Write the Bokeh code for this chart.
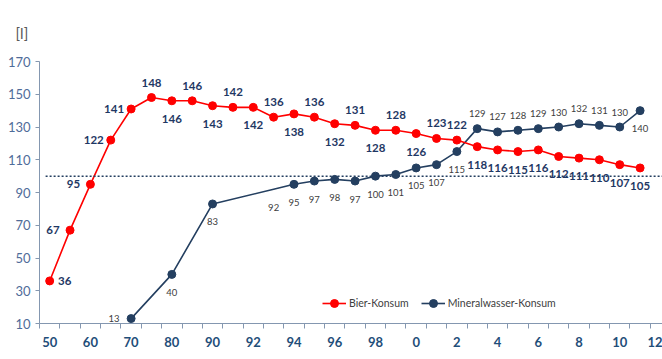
from bokeh.plotting import figure
from bokeh.models import ColumnDataSource, FixedTicker, Range1d, Legend, LegendItem
from bokeh.core.properties import value
from bokeh.embed import file_html
from bokeh.resources import INLINE

# ---- data ----
categories = ["50", "55", "60", "65", "70", "75", "80", "85", "90", "91", "92", "93", "94",
              "95", "96", "97", "98", "99", "0", "1", "2", "3", "4", "5", "6", "7", "8",
              "9", "10", "11", "12"]
bier = [36, 67, 95, 122, 141, 148, 146, 146, 143, 142, 142, 136, 138, 136, 132, 131, 128,
        128, 126, 123, 122, 118, 116, 115, 116, 112, 111, 110, 107, 105]
wasser = [None, None, None, None, 13, None, 40, None, 83, None, None, 92, 95, 97, 98, 97,
          100, 101, 105, 107, 115, 129, 127, 128, 129, 130, 132, 131, 130, 140]
reference_level = 100
y_ticks = [10, 30, 50, 70, 90, 110, 130, 150, 170]

# label placement (a=above, b=below, l=left, r=right)
bier_pos = list("rllll" + "abababababababa" + "a" + "bbbbbbbbb")
wasser_pos = ["l" if i == 4 else ("a" if 21 <= i <= 28 else "b") for i in range(len(wasser))]
wasser_no_marker = {"93"}

RED = "#FF0000"
NAVY = "#243F60"
FONT = "Lato"

offs = {"a": (0, -15), "b": (0, 18), "l": (-17, 0), "r": (15, 0)}

p = figure(width=662, height=359, output_backend="svg", toolbar_location=None,
           x_range=Range1d(-0.5, 30.1), y_range=Range1d(10, 170),
           min_border_left=39, min_border_right=0, min_border_top=61, min_border_bottom=36,
           title="[l]")
p.outline_line_color = None
p.xgrid.grid_line_color = None
p.ygrid.grid_line_color = None
p.background_fill_color = "white"

p.title.align = "left"
p.title.vertical_align = "top"
p.title.offset = -24
p.title.standoff = 36
p.title.text_font = FONT
p.title.text_font_size = "15px"
p.title.text_font_style = "normal"
p.title.text_color = "#595959"

# blue series
wx = [i for i, v in enumerate(wasser) if v is not None]
wy = [wasser[i] for i in wx]
wl = p.line(wx, wy, line_color=NAVY, line_width=1.6)
mx = [i for i in wx if categories[i] not in wasser_no_marker]
my = [wasser[i] for i in mx]
ws = p.scatter(mx, my, size=8, fill_color=NAVY, line_color=NAVY)

# red series
bx = list(range(len(bier)))
bl = p.line(bx, bier, line_color=RED, line_width=1.6)
bs = p.scatter(bx, bier, size=8, fill_color=RED, line_color=RED)

# labels
bsrc = ColumnDataSource(dict(x=bx, y=bier, t=[str(v) for v in bier],
                             xo=[offs[c][0] for c in bier_pos], yo=[offs[c][1] for c in bier_pos]))
p.text(x="x", y="y", text="t", x_offset="xo", y_offset="yo", source=bsrc,
       text_align="center", text_baseline="middle", text_font=value(FONT),
       text_font_size="11.5px", text_font_style="bold", text_color="#1F3864")
wsrc = ColumnDataSource(dict(x=wx, y=wy, t=[str(v) for v in wy],
                             xo=[offs[wasser_pos[i]][0] for i in wx], yo=[offs[wasser_pos[i]][1] for i in wx]))
p.text(x="x", y="y", text="t", x_offset="xo", y_offset="yo", source=wsrc,
       text_align="center", text_baseline="middle", text_font=value(FONT),
       text_font_size="9.5px", text_color="#404040")

# reference dotted line
p.line([-0.2, 30.3], [reference_level, reference_level], line_color=NAVY, line_width=1.5,
       line_dash="2 2")

# axes
AX = "#8497B0"
p.yaxis.ticker = FixedTicker(ticks=y_ticks)
p.yaxis.axis_line_color = AX
p.yaxis.major_tick_line_color = AX
p.yaxis.major_tick_in = 0
p.yaxis.major_tick_out = 4
p.yaxis.minor_tick_line_color = None
p.yaxis.major_label_text_font = FONT
p.yaxis.major_label_text_font_size = "13px"
p.yaxis.major_label_text_color = "#4F6C9A"
p.yaxis.major_label_standoff = 5

p.xaxis.ticker = FixedTicker(ticks=list(range(0, len(categories), 2)),
                             minor_ticks=[i - 0.5 for i in range(len(categories) + 1)])
p.xaxis.major_label_overrides = {i: categories[i] for i in range(0, len(categories), 2)}
p.xaxis.axis_line_color = AX
p.xaxis.major_tick_line_color = None
p.xaxis.major_tick_in = 0
p.xaxis.major_tick_out = 5
p.xaxis.minor_tick_line_color = AX
p.xaxis.minor_tick_in = 0
p.xaxis.minor_tick_out = 5
p.xaxis.major_label_text_font = FONT
p.xaxis.major_label_text_font_size = "13px"
p.xaxis.major_label_text_font_style = "bold"
p.xaxis.major_label_text_color = "#1F4E79"
p.xaxis.major_label_standoff = 8

legend = Legend(items=[LegendItem(label="Bier-Konsum", renderers=[bl, bs]),
                       LegendItem(label="Mineralwasser-Konsum", renderers=[wl, ws])],
                orientation="horizontal", location=(283, 10), border_line_color=None,
                background_fill_alpha=0, padding=0, margin=0, spacing=12,
                glyph_width=24, label_standoff=3, label_text_font=FONT,
                label_text_font_size="10.5px", label_text_color="#404040")
p.add_layout(legend)

open("out.html", "w").write(file_html(p, INLINE))
